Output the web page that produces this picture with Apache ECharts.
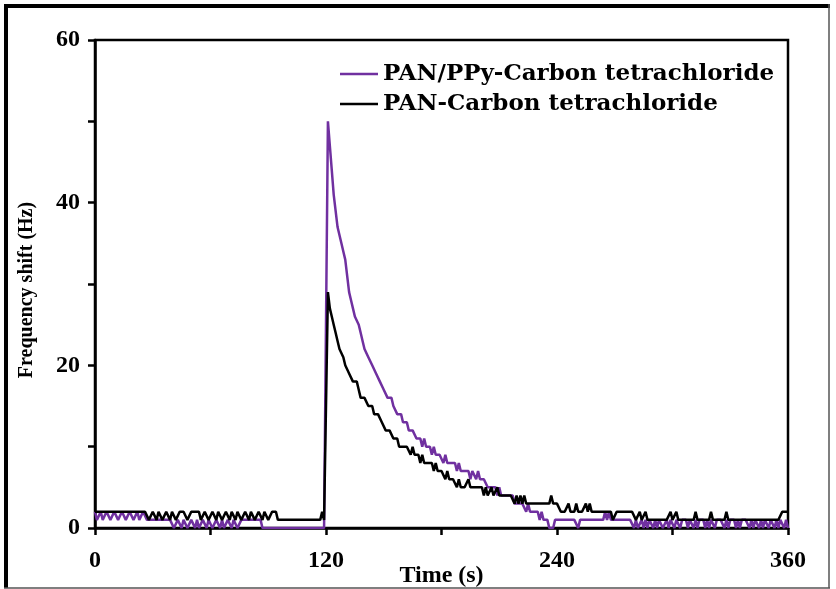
<!DOCTYPE html>
<html><head><meta charset="utf-8">
<script src="https://cdn.jsdelivr.net/npm/echarts@6/dist/echarts.min.js"></script>
<style>html,body{margin:0;padding:0;background:#fff}#c{width:836px;height:589px}</style>
</head><body><div id="c"></div>
<script>
// sampling step of the recordings (s)
const STEP = 1;
const xTickValues = [0, 120, 240, 360];
const yTickValues = [0, 20, 40, 60];
const seriesNames = ['PAN/PPy-Carbon tetrachloride', 'PAN-Carbon tetrachloride'];
const xTitle = 'Time (s)';
const yTitle = 'Frequency shift (Hz)';

// PAN/PPy - Carbon tetrachloride (Hz), one value per second, 0..360 s
const ppyValues = [
 2,1,1,2,1,1,2,2,1,1,
 2,2,1,1,2,2,1,1,2,2,
 1,1,2,1,1,2,2,1,1,1,
 1,1,1,1,1,1,1,1,1,1,
 1,0,0,1,1,0,1,1,0,0,
 1,1,0,1,0,0,1,1,0,1,
 1,0,0,1,1,0,1,0,0,1,
 1,0,1,1,0,0,1,1,1,1,
 1,1,1,1,1,1,1,0,0,0,
 0,0,0,0,0,0,0,0,0,0,
 0,0,0,0,0,0,0,0,0,0,
 0,0,0,0,0,0,0,0,0,0,
 0,50,47,44,41,39,37,37,35,34,
 33,31,29,28,27,26,26,25,24,23,
 22,22,21,21,20,20,19,19,18,18,
 17,17,16,16,16,15,15,14,14,14,
 13,13,13,12,12,12,12,11,11,11,
 10,11,10,10,10,9,10,9,9,9,
 9,8,9,8,8,8,8,8,7,8,
 7,7,7,7,7,6,7,7,6,7,
 6,6,6,6,5,5,5,5,5,4,
 5,4,4,4,4,4,4,4,3,3,
 3,3,3,3,2,3,2,2,2,2,
 2,1,2,1,1,1,0,0,0,1,
 1,1,1,1,1,1,1,1,1,1,
 1,0,1,1,1,1,1,1,1,1,
 1,1,1,1,1,2,1,2,1,1,
 1,1,1,1,1,1,1,1,1,1,
 0,1,0,0,1,0,1,0,1,1,
 0,1,0,1,1,0,0,1,0,1,
 1,0,1,1,0,1,1,1,0,1,
 1,0,1,0,1,1,1,0,1,0,
 1,1,0,1,1,1,1,0,1,0,
 1,1,1,0,1,0,1,1,1,1,
 0,1,0,1,1,0,1,0,1,1,
 0,1,1,0,1,0,1,1,0,1,
 0
];

// PAN - Carbon tetrachloride (Hz), one value per second, 0..360 s
const panValues = [
 2,2,2,2,2,2,2,2,2,2,
 2,2,2,2,2,2,2,2,2,2,
 2,2,2,2,2,2,2,2,1,1,
 2,2,1,2,2,1,1,2,2,1,
 2,2,1,1,2,2,2,2,1,1,
 2,2,2,2,2,1,1,2,2,1,
 1,2,2,1,2,2,1,1,2,2,
 1,2,2,1,2,2,1,1,2,2,
 1,2,2,1,1,2,2,1,2,2,
 1,1,2,2,2,1,1,1,1,1,
 1,1,1,1,1,1,1,1,1,1,
 1,1,1,1,1,1,1,1,2,1,
 1,29,27,26,25,24,23,22,22,21,
 20,20,19,19,18,18,18,17,16,16,
 16,16,15,15,15,14,14,14,14,13,
 13,12,12,12,12,11,11,11,10,10,
 10,10,10,10,9,10,9,9,9,8,
 9,8,8,8,8,8,7,8,7,7,
 7,7,6,7,6,6,6,6,5,6,
 5,5,5,5,6,5,5,5,5,5,
 5,5,4,5,4,4,5,4,4,5,
 4,4,4,4,4,4,4,4,3,4,
 3,4,3,4,3,3,3,3,3,3,
 3,3,3,3,3,3,3,4,3,3,
 3,3,2,2,2,2,3,2,2,2,
 3,2,2,2,2,3,2,3,2,2,
 2,2,2,2,2,2,2,2,2,1,
 1,2,2,2,2,2,2,2,2,2,
 2,1,1,2,1,1,2,1,1,1,
 1,1,1,1,1,1,1,1,1,2,
 1,1,2,1,1,1,1,1,1,1,
 1,1,2,1,1,1,1,1,1,1,
 2,1,1,1,1,1,1,1,2,1,
 1,1,1,1,1,1,1,1,1,1,
 1,1,1,1,1,1,1,1,1,1,
 1,1,1,1,1,1,1,2,2,2,
 2
];

const seriesColors = ['#7030A0', '#000000'];
const serif = 'Liberation Serif';
const toPairs = arr => arr.map((v, i) => [i * STEP, v]);

const chart = echarts.init(document.getElementById('c'), null, {renderer: 'canvas'});
const tickLine = {color: '#000', width: 2.5};
chart.setOption({
  animation: false,
  backgroundColor: '#fff',
  grid: {left: 95, right: 48, top: 40, bottom: 61, containLabel: false, outerBoundsMode: 'none',
         show: true, borderColor: '#000', borderWidth: 2.5, backgroundColor: 'transparent'},
  legend: {
    orient: 'vertical', left: 340, top: 62, padding: 0, itemWidth: 38, itemHeight: 2.5, icon: 'rect', itemGap: 6,
    data: seriesNames,
    textStyle: {fontFamily: 'DejaVu Serif', fontWeight: 'bold', fontSize: 23, color: '#000', lineHeight: 24}
  },
  xAxis: {
    type: 'value', min: xTickValues[0], max: xTickValues[xTickValues.length - 1], interval: xTickValues[1] - xTickValues[0],
    axisLine: {show: true, onZero: false, lineStyle: tickLine},
    axisTick: {show: true, length: 7, inside: false, lineStyle: tickLine},
    minorTick: {show: true, splitNumber: 2, length: 7, lineStyle: tickLine},
    splitLine: {show: false},
    axisLabel: {fontFamily: serif, fontWeight: 'bold', fontSize: 24, color: '#000', margin: 21},
    name: xTitle, nameLocation: 'middle', nameGap: 36, nameMoveOverlap: false,
    nameTextStyle: {fontFamily: serif, fontWeight: 'bold', fontSize: 24, color: '#000'}
  },
  yAxis: {
    type: 'value', min: yTickValues[0], max: yTickValues[yTickValues.length - 1], interval: yTickValues[1] - yTickValues[0],
    axisLine: {show: true, onZero: false, lineStyle: tickLine},
    axisTick: {show: true, length: 7, inside: false, lineStyle: tickLine},
    minorTick: {show: true, splitNumber: 2, length: 7, lineStyle: tickLine},
    splitLine: {show: false},
    axisLabel: {fontFamily: serif, fontWeight: 'bold', fontSize: 24, color: '#000', margin: 15},
    name: yTitle, nameLocation: 'middle', nameGap: 58, nameMoveOverlap: false,
    nameTextStyle: {fontFamily: serif, fontWeight: 'bold', fontSize: 20, color: '#000', padding: [0, 12, 0, 0]}
  },
  series: [
    {name: seriesNames[0], type: 'line', data: toPairs(ppyValues), showSymbol: false, symbol: 'none',
     color: seriesColors[0], lineStyle: {width: 2.5, color: seriesColors[0]}, z: 2},
    {name: seriesNames[1], type: 'line', data: toPairs(panValues), showSymbol: false, symbol: 'none',
     color: seriesColors[1], lineStyle: {width: 2.5, color: seriesColors[1]}, z: 3}
  ],
  graphic: [
    {type: 'line', silent: true, shape: {x1: 4, y1: 6, x2: 830, y2: 6}, style: {stroke: '#000', lineWidth: 4}},
    {type: 'line', silent: true, shape: {x1: 6, y1: 4, x2: 6, y2: 588}, style: {stroke: '#000', lineWidth: 4}},
    {type: 'line', silent: true, shape: {x1: 829, y1: 4, x2: 829, y2: 588}, style: {stroke: '#555', lineWidth: 1.5}},
    {type: 'line', silent: true, shape: {x1: 4, y1: 588, x2: 830, y2: 588}, style: {stroke: '#555', lineWidth: 1.5}}
  ]
});
</script></body></html>
